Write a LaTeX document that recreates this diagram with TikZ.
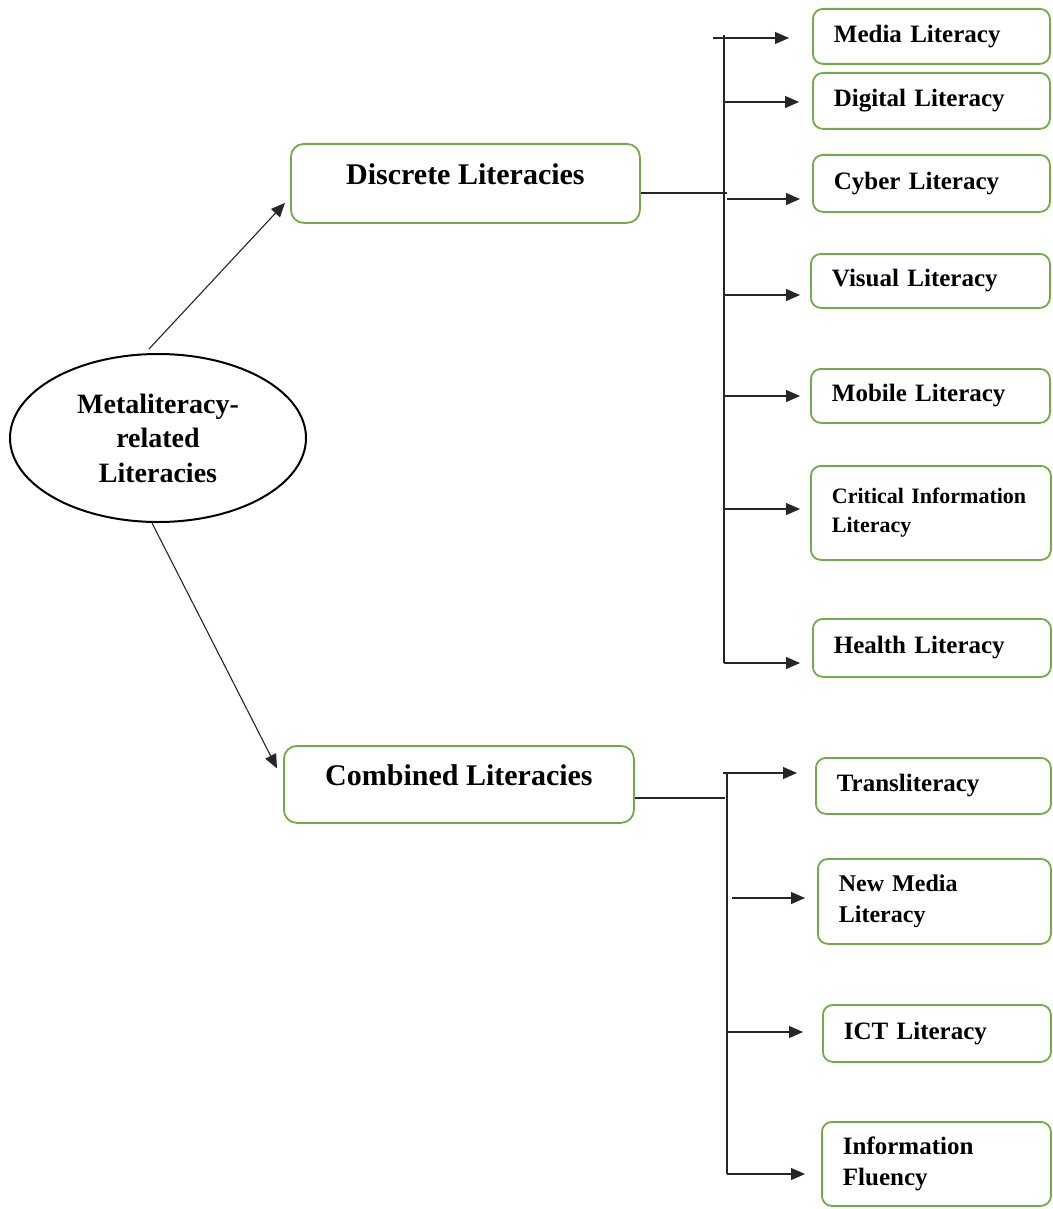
\documentclass[tikz,border=0pt]{standalone}
\usepackage{fontspec}
\setmainfont{Liberation Serif}
\usetikzlibrary{arrows.meta,shapes.geometric,calc}
\definecolor{boxgreen}{RGB}{112,173,71}
\begin{document}
\begin{tikzpicture}[x=1pt,y=-1pt,
  arr/.style={draw=black!85, line width=1.1pt, -{Triangle[length=14pt,width=12pt]}},
  bar/.style={draw=black!85, line width=1.1pt},
  leaf/.style={draw=boxgreen, line width=1.8pt, rounded corners=10pt, anchor=north west,
    inner xsep=21pt, inner ysep=0pt, align=left, font=\fontsize{25}{31}\selectfont\bfseries},
  mainbox/.style={draw=boxgreen, line width=1.8pt, rounded corners=13pt, anchor=north west,
    inner sep=0pt, align=center, font=\fontsize{30}{36}\selectfont\bfseries, text depth=18pt},
]
\useasboundingbox (0,0) rectangle (1052,1209);
\fill[white] (0,0) rectangle (1052,1209);

% root
\node[ellipse, draw, line width=2pt, minimum width=296pt, minimum height=168pt, inner sep=0pt,
  align=center, font=\fontsize{28}{34.5}\selectfont\bfseries] (root) at (158,438)
  {Metaliteracy-\\related\\Literacies};

% main categories
\node[mainbox, minimum width=349pt, minimum height=79pt] (disc) at (290,143) {Discrete Literacies};
\node[mainbox, minimum width=350pt, minimum height=77pt] (comb) at (283,745) {Combined Literacies};

% discrete leaves
\node[leaf, minimum height=55pt, text width=195pt] (m1) at (812,8) {Media Literacy};
\node[leaf, minimum height=56pt, text width=195pt] (m2) at (812,72) {Digital Literacy};
\node[leaf, minimum height=57pt, text width=195pt] (m3) at (812,154) {Cyber Literacy};
\node[leaf, minimum height=54pt, text width=197pt] (m4) at (810,253) {Visual Literacy};
\node[leaf, minimum height=54pt, text width=197pt] (m5) at (810,368) {Mobile Literacy};
\node[leaf, minimum height=94pt, text width=198pt, font=\fontsize{22}{29}\selectfont\bfseries] (m6) at (810,465) {Critical Information\\Literacy};
\node[leaf, minimum height=58pt, text width=196pt] (m7) at (812,618) {Health Literacy};

% combined leaves
\node[leaf, minimum height=56pt, text width=193pt] (c1) at (815,757) {Transliteracy};
\node[leaf, minimum height=85pt, text width=191pt, font=\fontsize{24}{31}\selectfont\bfseries] (c2) at (817,858) {New Media\\Literacy};
\node[leaf, minimum height=57pt, text width=186pt] (c3) at (822,1004) {ICT Literacy};
\node[leaf, minimum height=84pt, text width=187pt] (c4) at (821,1121) {Information\\Fluency};

% root arrows
\draw[arr] ($(root.north)+(-9,-4)$) -- ($(disc.west)+(-5,19.5)$);
\draw[arr] ($(root.south)+(-6,0)$) -- ($(comb.west)+(-6,-16)$);

% discrete fork
\coordinate (dtop) at (724,35);
\coordinate (dbot) at (724,663);
\coordinate (dj) at (727,193);
\draw[bar] (dtop) -- (dbot);
\draw[bar] (disc.east |- dj) -- (dj);
\coordinate (d1) at (713,38);
\coordinate (d2) at (725,102);
\coordinate (d3) at (727,199);
\coordinate (d4) at (724,295);
\coordinate (d5) at (724,396);
\coordinate (d6) at (724,509);
\draw[arr, shorten >=23pt] (d1) -- (d1 -| m1.west);
\draw[arr, shorten >=13pt] (d2) -- (d2 -| m2.west);
\draw[arr, shorten >=12pt] (d3) -- (d3 -| m3.west);
\draw[arr, shorten >=10pt] (d4) -- (d4 -| m4.west);
\draw[arr, shorten >=10pt] (d5) -- (d5 -| m5.west);
\draw[arr, shorten >=10pt] (d6) -- (d6 -| m6.west);
\draw[arr, shorten >=12pt] (dbot) -- (dbot -| m7.west);

% combined fork
\coordinate (ctop) at (727,773);
\coordinate (cbot) at (727,1174);
\coordinate (cj) at (725,798);
\draw[bar] (ctop) -- (cbot);
\draw[bar] (comb.east |- cj) -- (cj);
\coordinate (e1) at (723,773);
\coordinate (e2) at (732,898);
\coordinate (e3) at (727,1032);
\draw[arr, shorten >=18pt] (e1) -- (e1 -| c1.west);
\draw[arr, shorten >=12pt] (e2) -- (e2 -| c2.west);
\draw[arr, shorten >=19pt] (e3) -- (e3 -| c3.west);
\draw[arr, shorten >=16pt] (cbot) -- (cbot -| c4.west);
\end{tikzpicture}
\end{document}
